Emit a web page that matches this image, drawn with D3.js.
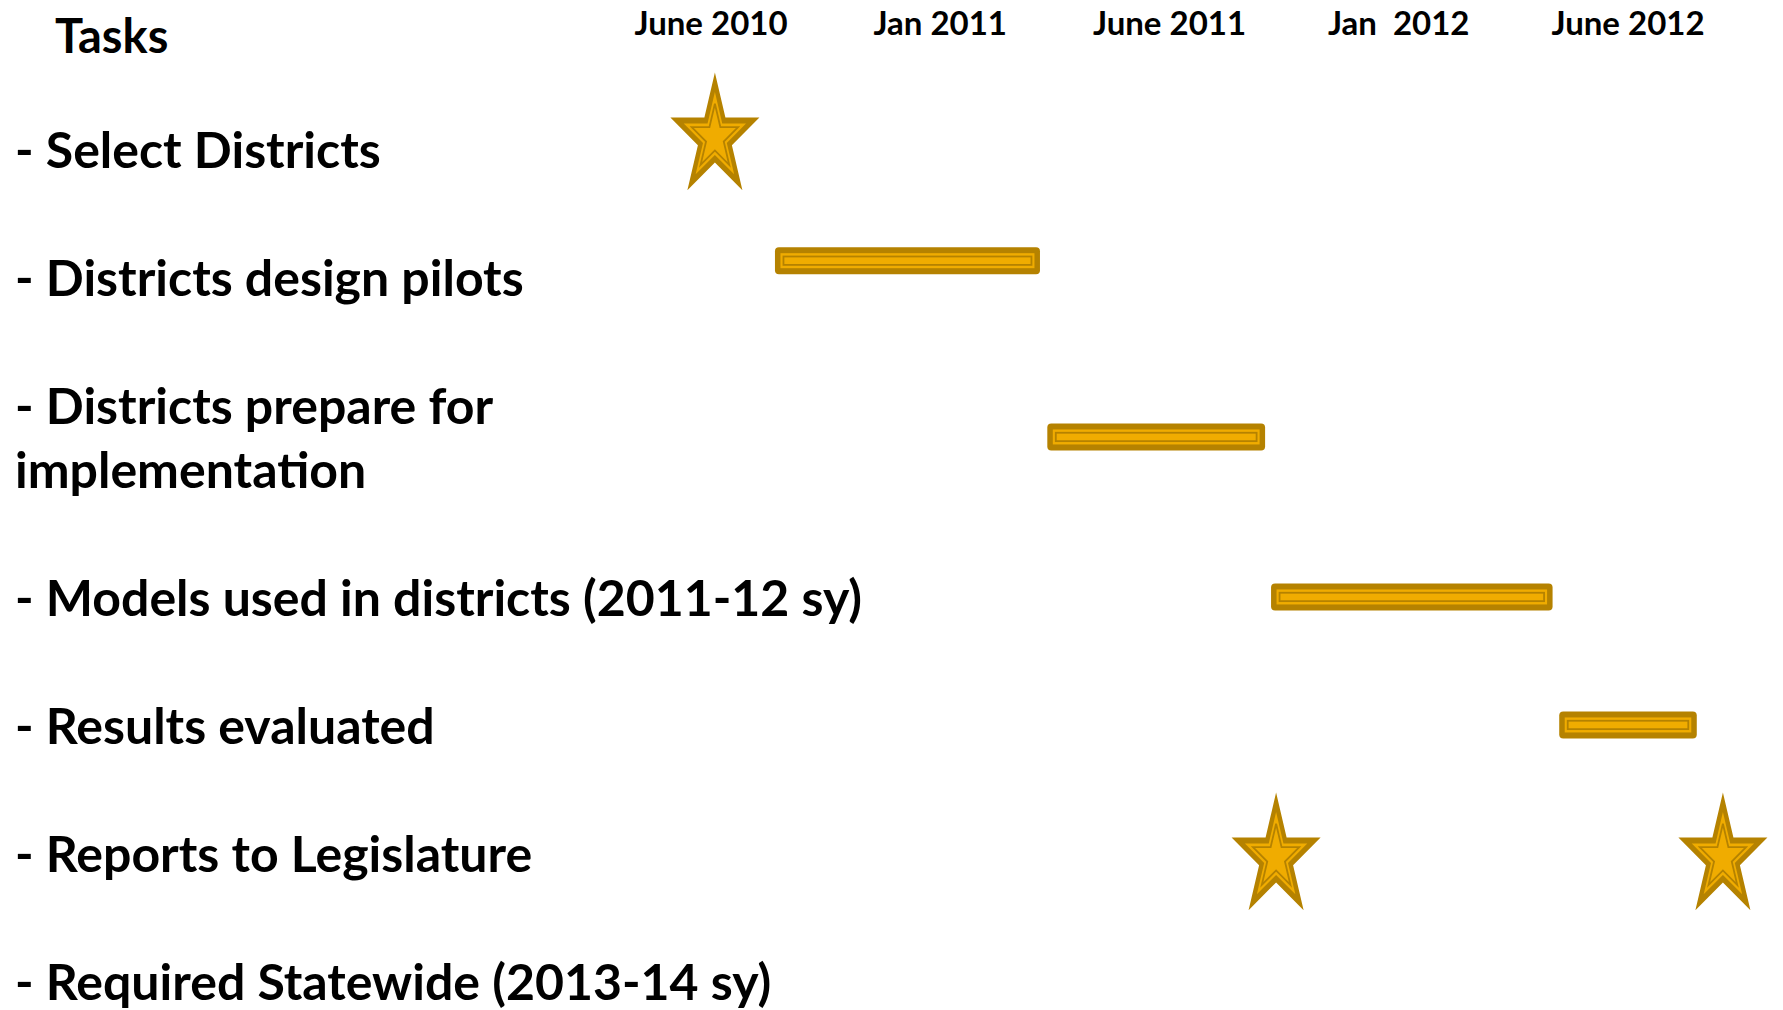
<!DOCTYPE html>
<html>
<head>
<meta charset="utf-8">
<script src="https://cdnjs.cloudflare.com/ajax/libs/d3/7.8.5/d3.min.js"></script>
<style>
  body { margin: 0; background: #fff; }
  text { font-family: Lato, "Open Sans", sans-serif; font-weight: 700; fill: #000; white-space: pre; }
  .head { font-size: 33px; }
  .title { font-size: 47px; }
  .task { font-size: 50px; }
</style>
</head>
<body>
<div id="plot"></div>
<script>
// header periods, x domain is the column index
const periods = ["June 2010", "Jan 2011", "June 2011", "Jan  2012", "June 2012"]

// task label lines, with the row they sit on
const taskLines = ["- Select Districts", "- Districts design pilots", "- Districts prepare for", "implementation",
  "- Models used in districts (2011-12 sy)", "- Results evaluated", "- Reports to Legislature", "- Required Statewide (2013-14 sy)"]
const taskRows = [0, 1, 2, 2.5, 3.5, 4.5, 5.5, 6.5]

// bars: start / end in period units, row in row units
const barStart = [0.279, 1.467, 2.443, 3.700]
const barEnd = [1.435, 2.417, 3.671, 4.300]
const barRow = [0.857, 2.234, 3.484, 4.484]

// milestones
const starAt = [0.017, 2.465, 4.414]
const starRow = [-0.105, 5.52, 5.52]

const w = 1783,
    h = 1010,
    dark = "#b58200",
    light = "#f0ac00",
    x = d3.scaleLinear()
      .domain([0, periods.length - 1])
      .range([711, 1628]),
    y = d3.scaleLinear()
      .domain([0, 7])
      .range([151, 1047])

const svg = d3.select("#plot").append("svg")
  .attr("width", w)
  .attr("height", h)

svg.append("text")
  .attr("class", "title")
  .attr("x", 55)
  .attr("y", 53)
  .text("Tasks")

svg.selectAll(".head")
  .data(periods)
  .join("text")
  .attr("class", "head")
  .attr("x", (d, i) => x(i))
  .attr("y", 35)
  .style("text-anchor", "middle")
  .text(d => d)

svg.selectAll(".task")
  .data(taskLines)
  .join("text")
  .attr("class", "task")
  .attr("x", 15)
  .attr("y", (d, i) => y(taskRows[i]) + 17)
  .text(d => d)

// bars: dark frame, light band, thin dark line, light core
const barH = 27
const bars = svg.selectAll(".bar")
  .data(barStart.map((s, i) => ({s: s, e: barEnd[i], r: barRow[i]})))
  .join("g")
  .attr("class", "bar")

bars.append("rect")
  .attr("x", d => x(d.s))
  .attr("y", d => y(d.r) - barH / 2)
  .attr("width", d => x(d.e) - x(d.s))
  .attr("height", barH)
  .attr("rx", 4)
  .attr("fill", dark)

bars.append("rect")
  .attr("x", d => x(d.s) + 5.5)
  .attr("y", d => y(d.r) - barH / 2 + 6)
  .attr("width", d => x(d.e) - x(d.s) - 11)
  .attr("height", barH - 12)
  .attr("fill", light)

bars.append("rect")
  .attr("x", d => x(d.s) + 8.5)
  .attr("y", d => y(d.r) - barH / 2 + 9.3)
  .attr("width", d => x(d.e) - x(d.s) - 17)
  .attr("height", barH - 18.6)
  .attr("fill", light)
  .attr("stroke", dark)
  .attr("stroke-width", 1.8)

// five point star, squeezed in x like the original shape
const R = 65, sx = 0.72
const starPts = (cx, cy, k) => d3.range(10).map(j => {
  const a = j * Math.PI / 5,
      rr = (j % 2 ? 0.382 : 1) * R * k
  return [cx + Math.sin(a) * rr * sx, cy - Math.cos(a) * rr]
})
const starLine = d3.line().curve(d3.curveLinearClosed)

const stars = svg.selectAll(".star")
  .data(starAt.map((s, i) => ({s: s, r: starRow[i]})))
  .join("g")
  .attr("class", "star")

stars.append("path")
  .attr("d", d => starLine(starPts(x(d.s), y(d.r), 1)))
  .attr("fill", dark)
stars.append("path")
  .attr("d", d => starLine(starPts(x(d.s), y(d.r), 0.70)))
  .attr("fill", light)
stars.append("path")
  .attr("d", d => starLine(starPts(x(d.s), y(d.r), 0.52)))
  .attr("fill", light)
  .attr("stroke", dark)
  .attr("stroke-width", 1.8)
</script>
</body>
</html>
